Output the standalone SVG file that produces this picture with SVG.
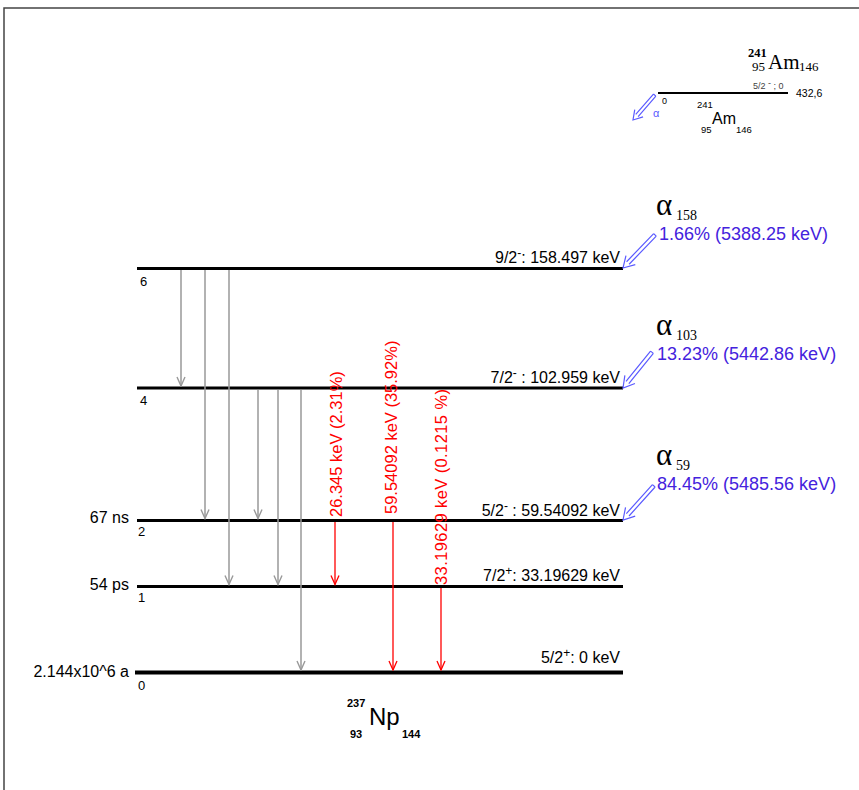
<svg xmlns="http://www.w3.org/2000/svg" xmlns:xlink="http://www.w3.org/1999/xlink" width="859" height="790" viewBox="0 0 859 790">
<style>
.lvl{stroke:#000;stroke-width:3;fill:none}
.sans{font-family:"Liberation Sans",Arial,sans-serif}
.serif{font-family:"Liberation Serif","Times New Roman",serif}
.lab{font-family:"Liberation Sans",Arial,sans-serif;font-size:16px;fill:#000}
.idx{font-family:"Liberation Sans",Arial,sans-serif;font-size:13px;fill:#000}
.gray{stroke:#999;stroke-width:1.5;fill:none}
.red{stroke:#f00;stroke-width:1.3;fill:none}
.rt{font-family:"Liberation Sans",Arial,sans-serif;font-size:16.5px;fill:#f00}
.blue{stroke:#5a5aff;stroke-width:1.2;fill:none}
.bt{font-family:"Liberation Sans",Arial,sans-serif;font-size:18px;fill:#4422dd}
.al{font-family:"Liberation Serif","Times New Roman",serif;fill:#000}
</style>
<defs>
<marker id="hg" viewBox="-10 -5 11 10" refX="0" refY="0" markerWidth="11" markerHeight="10" markerUnits="userSpaceOnUse" orient="auto">
<path d="M-9,-4 L0,0 L-9,4" stroke="#999" stroke-width="1.4" fill="none"/>
</marker>
<marker id="hr" viewBox="-10 -5 11 10" refX="0" refY="0" markerWidth="11" markerHeight="10" markerUnits="userSpaceOnUse" orient="auto">
<path d="M-9,-4 L0,0 L-9,4" stroke="#f00" stroke-width="1.3" fill="none"/>
</marker>
<g id="dbl">
<path class="blue" d="M-46,-1.8 L-7,-1.8 M-46,1.8 L-7,1.8 M-46,-1.8 L-46,1.8 M-11,-6.5 L0,0 L-11,6.5"/>
</g>
<g id="dbls">
<path class="blue" d="M-33,-1.6 L-6,-1.6 M-33,-1.6 L-33,1.6 M-33,1.6 L-6,1.6 M-9,-5.5 L0,0 L-9,5.5"/>
</g>
</defs>
<rect width="859" height="790" fill="#fff"/>
<g id="frame">
<path d="M4,790 L4,8 L859,8" stroke="#444" stroke-width="1.5" fill="none"/>
</g>
<g id="parent">
<text class="serif" x="748" y="57" font-size="12.5" font-weight="bold">241</text>
<text class="serif" x="752" y="71" font-size="13">95</text>
<text class="serif" x="768" y="69" font-size="21">Am</text>
<text class="serif" x="799" y="71" font-size="13">146</text>
<line x1="658" y1="93" x2="788" y2="93" stroke="#000" stroke-width="2"/>
<text class="sans" x="753" y="89" font-size="9" fill="#444">5/2 <tspan dy="-3">-</tspan><tspan dy="3"> ; 0</tspan></text>
<text class="sans" x="796" y="97" font-size="10.5" fill="#000">432,6</text>
<text class="sans" x="662" y="104" font-size="9" fill="#000">0</text>
<text class="sans" x="697" y="108" font-size="9.5" fill="#000">241</text>
<text class="sans" x="712" y="124" font-size="16" fill="#000">Am</text>
<text class="sans" x="701" y="133" font-size="9.5" fill="#000">95</text>
<text class="sans" x="736" y="133" font-size="9.5" fill="#000">146</text>
<use xlink:href="#dbls" transform="translate(633,120) rotate(131)"/>
<text class="sans" x="653" y="117" font-size="11" fill="#5a5aff">α</text>
</g>
<g id="level6">
<line class="lvl" x1="137" y1="268.5" x2="623" y2="268.5"/>
<text class="idx" x="140" y="286">6</text>
<text class="lab" x="620" y="263" text-anchor="end">9/2<tspan dy="-6" font-size="12">-</tspan><tspan dy="6">: 158.497 keV</tspan></text>
</g>
<g id="level4">
<line class="lvl" x1="137" y1="388" x2="623" y2="388"/>
<text class="idx" x="140" y="405">4</text>
<text class="lab" x="620" y="383" text-anchor="end">7/2<tspan dy="-6" font-size="12">-</tspan><tspan dy="6"> : 102.959 keV</tspan></text>
</g>
<g id="level2">
<line class="lvl" x1="137" y1="520.5" x2="623" y2="520.5"/>
<text class="idx" x="138" y="536">2</text>
<text class="lab" x="129" y="523" text-anchor="end">67 ns</text>
<text class="lab" x="620" y="516" text-anchor="end">5/2<tspan dy="-6" font-size="12">-</tspan><tspan dy="6"> : 59.54092 keV</tspan></text>
</g>
<g id="level1">
<line class="lvl" x1="137" y1="586.5" x2="623" y2="586.5"/>
<text class="idx" x="138" y="602">1</text>
<text class="lab" x="129" y="590" text-anchor="end">54 ps</text>
<text class="lab" x="620" y="581" text-anchor="end">7/2<tspan dy="-6" font-size="12">+</tspan><tspan dy="6">: 33.19629 keV</tspan></text>
</g>
<g id="level0">
<line x1="135" y1="672.5" x2="623" y2="672.5" stroke="#000" stroke-width="4"/>
<text class="idx" x="138" y="690">0</text>
<text class="lab" x="129" y="677" text-anchor="end">2.144x10^6 a</text>
<text class="lab" x="620" y="663" text-anchor="end">5/2<tspan dy="-6" font-size="12">+</tspan><tspan dy="6">: 0 keV</tspan></text>
</g>
<g id="connectors">
<line class="gray" x1="181" y1="270" x2="181" y2="386" marker-end="url(#hg)"/>
<line class="gray" x1="205" y1="270" x2="205" y2="518.5" marker-end="url(#hg)"/>
<line class="gray" x1="229" y1="270" x2="229" y2="584.5" marker-end="url(#hg)"/>
<line class="gray" x1="258" y1="390" x2="258" y2="518.5" marker-end="url(#hg)"/>
<line class="gray" x1="278" y1="390" x2="278" y2="584.5" marker-end="url(#hg)"/>
<line class="gray" x1="301" y1="390" x2="301" y2="670" marker-end="url(#hg)"/>
<line class="red" x1="335" y1="522" x2="335" y2="584.5" marker-end="url(#hr)"/>
<line class="red" x1="393" y1="522" x2="393" y2="670" marker-end="url(#hr)"/>
<line class="red" x1="441" y1="588" x2="441" y2="670" marker-end="url(#hr)"/>
</g>
<g id="gamma-labels">
<text class="rt" transform="translate(342,517) rotate(-90)">26.345 keV (2.31%)</text>
<text class="rt" transform="translate(397,514) rotate(-90)">59.54092 keV (35.92%)</text>
<text class="rt" transform="translate(447,585) rotate(-90)" textLength="196" lengthAdjust="spacing">33.19629 keV (0.1215 %)</text>
</g>
<g id="alpha158">
<use xlink:href="#dbl" transform="translate(623,268) rotate(134)"/>
<text class="al" x="656" y="215" font-size="31">α</text>
<text class="al" x="676" y="220" font-size="14">158</text>
<text class="bt" x="659" y="240">1.66% (5388.25 keV)</text>
</g>
<g id="alpha103">
<use xlink:href="#dbl" transform="translate(623,388) rotate(129)"/>
<text class="al" x="656" y="335" font-size="31">α</text>
<text class="al" x="676" y="340" font-size="14">103</text>
<text class="bt" x="657" y="360">13.23% (5442.86 keV)</text>
</g>
<g id="alpha59">
<use xlink:href="#dbl" transform="translate(623,520) rotate(132)"/>
<text class="al" x="656" y="465" font-size="31">α</text>
<text class="al" x="676" y="470" font-size="14">59</text>
<text class="bt" x="657" y="490">84.45% (5485.56 keV)</text>
</g>
<g id="daughter">
<text class="sans" x="347" y="707" font-size="11" font-weight="bold">237</text>
<text class="sans" x="369" y="725" font-size="24">Np</text>
<text class="sans" x="350" y="738" font-size="11" font-weight="bold">93</text>
<text class="sans" x="402" y="738" font-size="11" font-weight="bold">144</text>
</g>
</svg>
